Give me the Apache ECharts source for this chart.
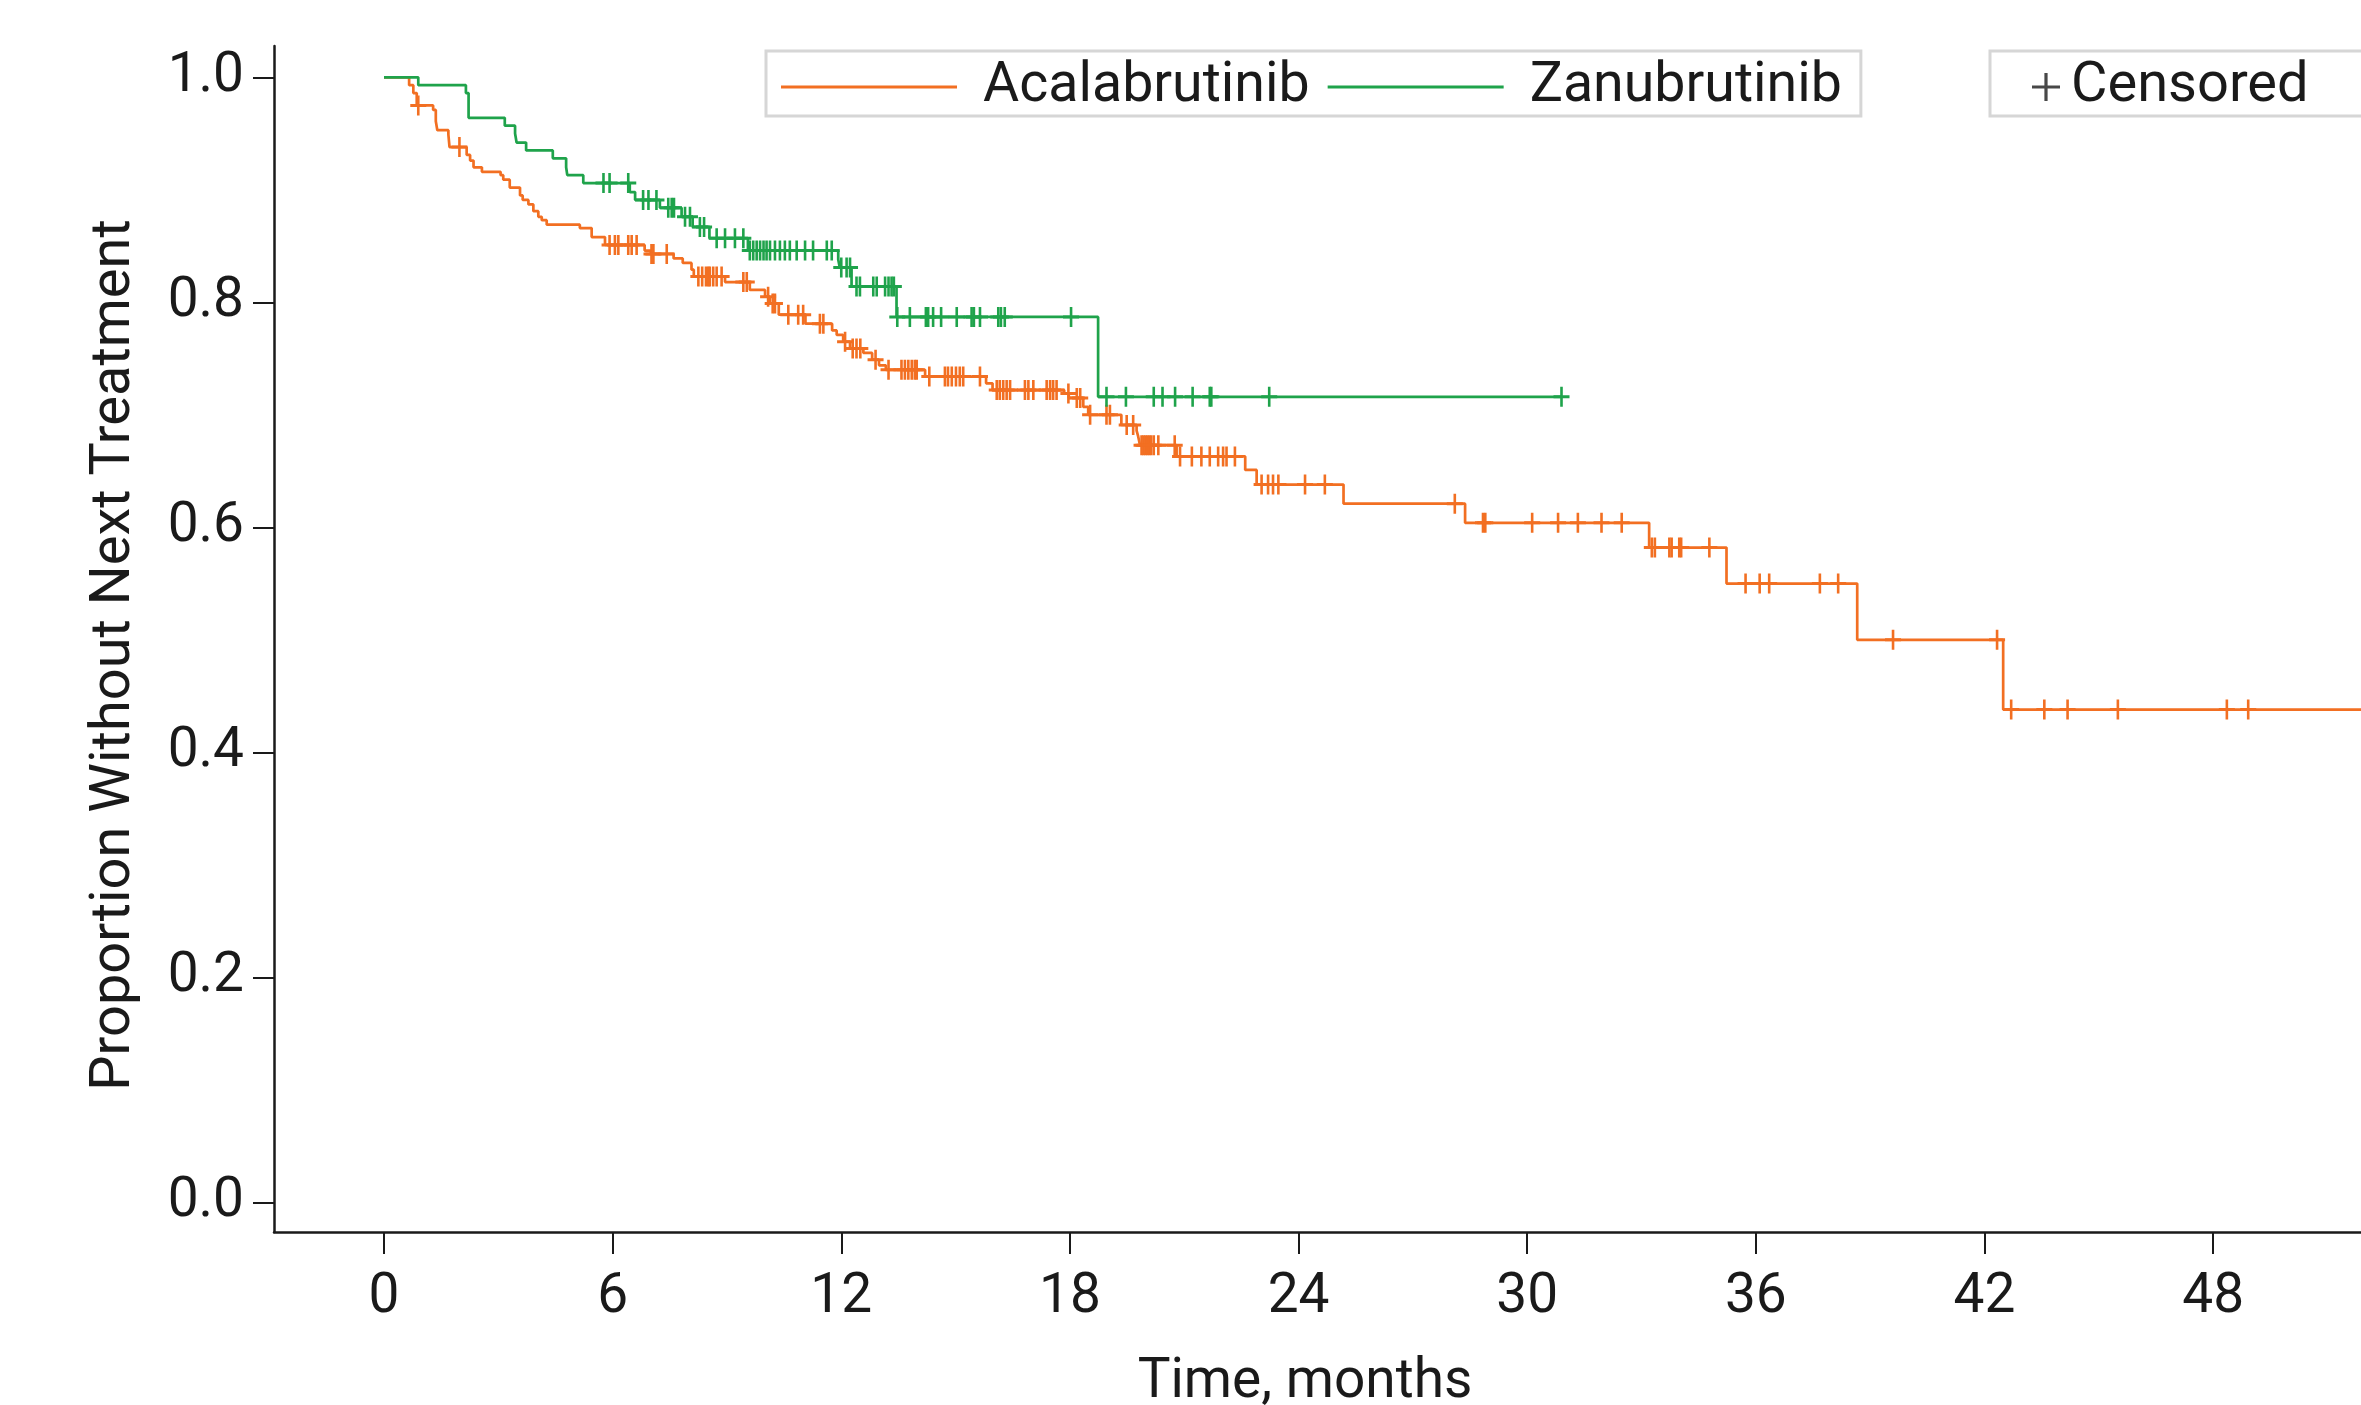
<!DOCTYPE html>
<html>
<head>
<meta charset="utf-8">
<script src="https://cdn.jsdelivr.net/npm/echarts@6/dist/echarts.min.js"></script>
<style>
  html, body { margin: 0; padding: 0; background: #fff; }
  #chart { width: 2361px; height: 1405px; }
</style>
</head>
<body>
<div id="chart"></div>
<script>
// axis ticks
const monthTicks = [0, 6, 12, 18, 24, 30, 36, 42, 48];
const proportionTicks = [0, 0.2, 0.4, 0.6, 0.8, 1.0];

// Acalabrutinib: step times (months) and proportion after each step
const acalaTimes = [0, 0.66, 0.77, 0.86, 1.29, 1.36, 1.40, 1.69, 1.72, 2.17, 2.26, 2.35, 2.57, 3.06, 3.13, 3.30, 3.57, 3.64, 3.79, 3.92, 4.05, 4.14, 4.27, 5.14, 5.45, 5.80, 6.84, 7.00, 7.60, 7.84, 8.07, 8.13, 8.95, 9.60, 10.00, 10.12, 10.36, 11.06, 11.76, 11.88, 12.05, 12.23, 12.58, 12.81, 12.99, 13.17, 14.20, 15.80, 15.97, 17.85, 17.97, 18.35, 18.48, 19.35, 19.75, 19.79, 19.84, 20.80, 22.60, 22.90, 25.18, 28.37, 33.20, 35.23, 38.66, 42.49, 52.5];
const acalaSurv = [1.000, 0.993, 0.986, 0.975, 0.971, 0.961, 0.953, 0.949, 0.938, 0.931, 0.926, 0.920, 0.916, 0.913, 0.909, 0.902, 0.895, 0.891, 0.887, 0.881, 0.876, 0.873, 0.869, 0.866, 0.858, 0.851, 0.846, 0.843, 0.839, 0.835, 0.829, 0.823, 0.818, 0.811, 0.805, 0.799, 0.789, 0.781, 0.775, 0.771, 0.765, 0.759, 0.755, 0.749, 0.744, 0.740, 0.734, 0.728, 0.722, 0.719, 0.715, 0.707, 0.700, 0.691, 0.686, 0.681, 0.673, 0.663, 0.651, 0.638, 0.621, 0.604, 0.582, 0.550, 0.500, 0.438, 0.438];
const acalaCensored = [0.90, 1.98, 5.92, 6.06, 6.15, 6.41, 6.50, 6.63, 7.02, 7.07, 7.42, 8.25, 8.35, 8.45, 8.51, 8.55, 8.64, 8.73, 8.86, 9.43, 9.52, 10.08, 10.20, 10.26, 10.61, 10.87, 11.00, 11.44, 11.53, 12.10, 12.30, 12.40, 12.50, 12.90, 13.24, 13.58, 13.67, 13.76, 13.85, 13.93, 13.98, 14.31, 14.72, 14.80, 14.90, 15.01, 15.11, 15.20, 15.64, 16.08, 16.16, 16.25, 16.34, 16.43, 16.82, 16.91, 17.04, 17.39, 17.48, 17.56, 17.65, 17.96, 18.18, 18.27, 18.53, 18.96, 19.05, 19.49, 19.66, 19.88, 19.93, 19.98, 20.03, 20.08, 20.13, 20.20, 20.32, 20.75, 20.89, 21.20, 21.45, 21.67, 21.89, 22.02, 22.11, 22.33, 23.03, 23.20, 23.33, 23.47, 24.17, 24.69, 28.10, 28.84, 28.90, 30.13, 30.81, 31.33, 31.95, 32.48, 33.27, 33.35, 33.73, 33.79, 33.99, 34.04, 34.78, 35.73, 36.10, 36.35, 37.68, 38.16, 39.60, 42.33, 42.70, 43.57, 44.18, 45.50, 48.36, 48.92];

// Zanubrutinib
const zanuTimes = [0, 0.90, 2.15, 2.22, 3.17, 3.44, 3.48, 3.73, 4.43, 4.78, 4.81, 5.23, 6.45, 6.59, 7.24, 7.81, 8.10, 8.54, 9.55, 11.92, 11.96, 12.27, 13.45, 18.74, 30.90];
const zanuSurv = [1.000, 0.993, 0.986, 0.964, 0.957, 0.950, 0.942, 0.935, 0.928, 0.920, 0.913, 0.906, 0.898, 0.891, 0.884, 0.876, 0.867, 0.857, 0.846, 0.838, 0.831, 0.814, 0.787, 0.716, 0.716];
const zanuCensored = [5.76, 5.92, 6.41, 6.80, 6.94, 7.15, 7.46, 7.55, 7.61, 7.90, 8.03, 8.29, 8.40, 8.73, 8.95, 9.21, 9.43, 9.60, 9.69, 9.78, 9.87, 9.96, 10.04, 10.13, 10.26, 10.39, 10.52, 10.65, 10.83, 11.05, 11.26, 11.62, 11.75, 12.00, 12.14, 12.23, 12.40, 12.49, 12.84, 12.93, 13.15, 13.24, 13.32, 13.38, 13.47, 13.80, 14.22, 14.28, 14.41, 14.62, 15.03, 15.42, 15.48, 15.64, 16.12, 16.19, 16.29, 18.03, 18.96, 19.47, 20.20, 20.43, 20.76, 21.22, 21.67, 21.71, 23.23, 30.90];

const ORANGE = "#F26F22";
const GREEN = "#1FA34B";
const INK = "#1a1a1a";
const FONT = "Roboto";

// plus marks
const plusMark = "path://M6.7,0H9.3V8.5H16V11.5H9.3V20H6.7V11.5H0V8.5H6.7Z";
const plusIcon = "path://M12.4,0H15.6V12.4H28V15.6H15.6V28H12.4V15.6H0V12.4H12.4Z";

function stepPoints(times, surv) {
  return times.map((t, i) => [t, surv[i]]);
}
// value of the curve at time t
function survAt(times, surv, t) {
  let s = surv[0];
  for (let i = 0; i < times.length; i++) {
    if (times[i] <= t) s = surv[i];
  }
  return s;
}
function censorPoints(times, surv, cens) {
  return cens.map((t) => [t, survAt(times, surv, t)]);
}

let myChart = echarts.init(document.getElementById("chart"));
myChart.setOption({
  animation: false,
  backgroundColor: "#fff",
  textStyle: { fontFamily: FONT },
  grid: { left: 274, right: 0, top: 46, bottom: 173 },
  legend: [
    {
      data: ["Acalabrutinib", "Zanubrutinib"],
      left: 766,
      top: 51,
      icon: "rect",
      itemWidth: 176,
      itemHeight: 3,
      itemGap: 18,
      padding: [8, 19, 1, 15],
      borderColor: "#d6d6d6",
      borderWidth: 3,
      textStyle: { fontSize: 55.5, color: INK, fontFamily: FONT, padding: [0, 0, 0, 21] },
      selectedMode: false,
    },
    {
      data: [{ name: "Censored", icon: plusIcon }],
      left: 1990,
      top: 51,
      itemWidth: 28,
      itemHeight: 28,
      padding: [8, 120, 1, 42],
      borderColor: "#d6d6d6",
      borderWidth: 3,
      textStyle: { fontSize: 56, color: INK, fontFamily: FONT, padding: [0, 0, 0, 6] },
      selectedMode: false,
    },
  ],
  xAxis: {
    type: "value",
    min: -2.886,
    max: 51.88,
    axisLine: { onZero: false, lineStyle: { color: INK, width: 2.5 } },
    axisTick: { customValues: monthTicks, length: 22, lineStyle: { color: INK, width: 2 } },
    axisLabel: { customValues: monthTicks, margin: 39, fontSize: 55, color: INK, fontFamily: FONT },
    splitLine: { show: false },
  },
  yAxis: {
    type: "value",
    min: -0.0264,
    max: 1.0278,
    axisLine: { show: true, onZero: false, lineStyle: { color: INK, width: 2.5 } },
    axisTick: { show: true, customValues: proportionTicks, length: 21, lineStyle: { color: INK, width: 2 } },
    axisLabel: {
      customValues: proportionTicks,
      margin: 30,
      fontSize: 55,
      color: INK,
      fontFamily: FONT,
      formatter: (v) => v.toFixed(1),
    },
    splitLine: { show: false },
  },
  graphic: [
    {
      type: "text",
      x: 1305,
      y: 1383,
      style: { text: "Time, months", fontSize: 55, fontFamily: FONT, fill: INK, align: "center", verticalAlign: "middle" },
    },
    {
      type: "text",
      x: 115,
      y: 655,
      rotation: Math.PI / 2,
      style: { text: "Proportion Without Next Treatment", fontSize: 56, fontFamily: FONT, fill: INK, align: "center", verticalAlign: "middle" },
    },
  ],
  series: [
    {
      name: "Acalabrutinib",
      type: "line",
      step: "end",
      showSymbol: false,
      color: ORANGE,
      lineStyle: { width: 2.7, color: ORANGE },
      data: stepPoints(acalaTimes, acalaSurv),
      z: 3,
    },
    {
      name: "Zanubrutinib",
      type: "line",
      step: "end",
      showSymbol: false,
      color: GREEN,
      lineStyle: { width: 2.7, color: GREEN },
      data: stepPoints(zanuTimes, zanuSurv),
      z: 3,
    },
    {
      name: "Acalabrutinib censored",
      type: "scatter",
      symbol: plusMark,
      symbolSize: [16, 20],
      itemStyle: { color: ORANGE, opacity: 1 },
      data: censorPoints(acalaTimes, acalaSurv, acalaCensored),
      silent: true,
      z: 4,
    },
    {
      name: "Zanubrutinib censored",
      type: "scatter",
      symbol: plusMark,
      symbolSize: [16, 20],
      itemStyle: { color: GREEN, opacity: 1 },
      data: censorPoints(zanuTimes, zanuSurv, zanuCensored),
      silent: true,
      z: 4,
    },
    {
      name: "Censored",
      type: "scatter",
      symbol: plusIcon,
      symbolSize: 28,
      itemStyle: { color: INK },
      data: [],
    },
  ],
});
</script>
</body>
</html>
